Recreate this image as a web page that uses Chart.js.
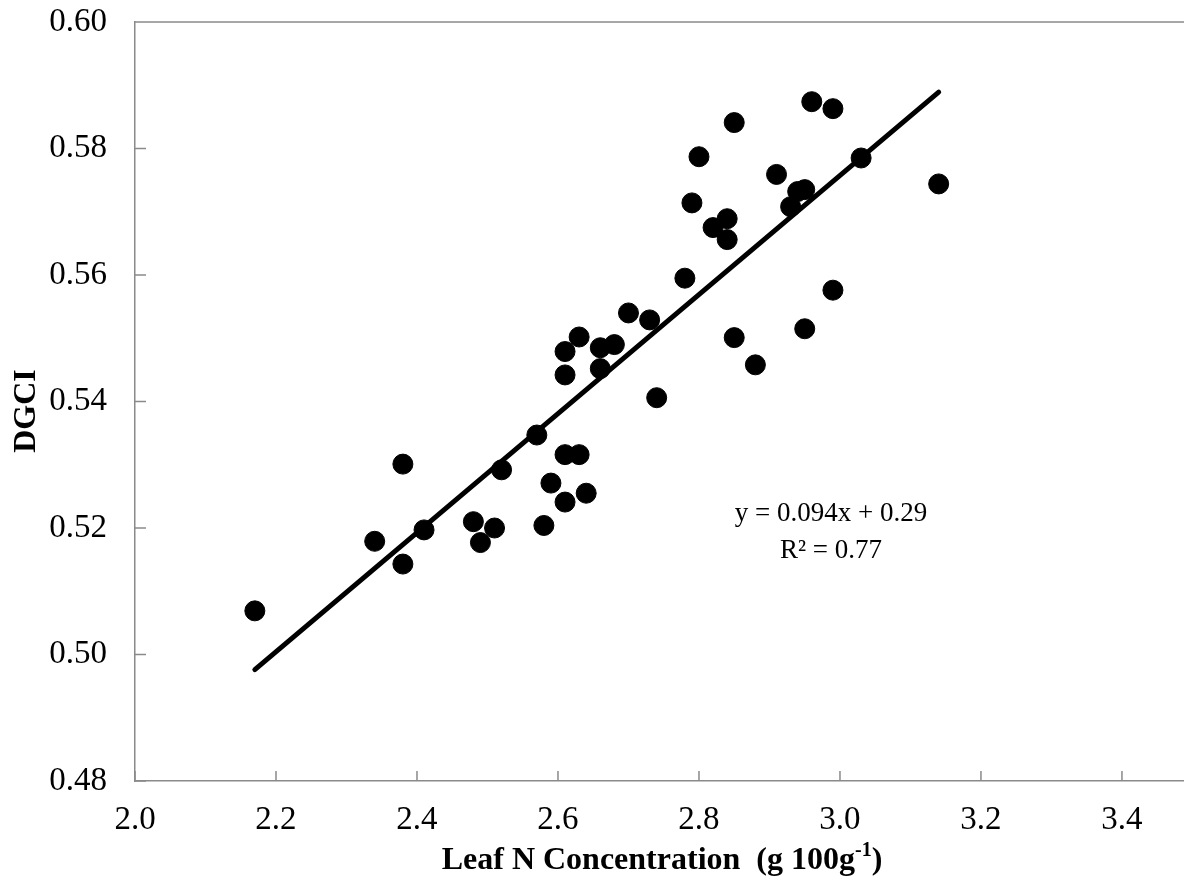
<!DOCTYPE html>
<html>
<head>
<meta charset="utf-8">
<script src="https://cdn.jsdelivr.net/npm/chart.js@4/dist/chart.umd.min.js"></script>
<style>
  body { margin: 0; background: #fff; }
  #wrap { width: 1184px; height: 884px; }
</style>
</head>
<body>
<div id="wrap"><canvas id="dgci-chart"></canvas></div>
<script>
// leaf N concentration (g 100g-1) of each sample
const leafN = [2.17, 2.34, 2.38, 2.38, 2.41, 2.48, 2.49, 2.51, 2.52, 2.57, 2.58, 2.59, 2.61, 2.61, 2.63,
    2.64, 2.61, 2.61, 2.63, 2.66, 2.68, 2.66, 2.70, 2.73, 2.74, 2.78, 2.79, 2.80, 2.82, 2.84, 2.84,
    2.85, 2.85, 2.88, 2.91, 2.93, 2.94, 2.95, 2.95, 2.96, 2.99, 2.99, 3.03, 3.14];
// DGCI of each sample
const dgci = [0.5069, 0.5179, 0.5301, 0.5143, 0.5197, 0.5210, 0.5177, 0.5200, 0.5292, 0.5347, 0.5204, 0.5271, 0.5241, 0.5316, 0.5316,
    0.5255, 0.5442, 0.5479, 0.5502, 0.5485, 0.5490, 0.5452, 0.5540, 0.5529, 0.5406, 0.5595, 0.5714, 0.5787, 0.5675, 0.5689, 0.5656,
    0.5841, 0.5501, 0.5458, 0.5759, 0.5708, 0.5732, 0.5735, 0.5515, 0.5874, 0.5863, 0.5576, 0.5785, 0.5744];
// trend line end points
const fitX = [2.17, 3.14];
const fitY = [0.4976, 0.5889];

const xTicks = [2.0, 2.2, 2.4, 2.6, 2.8, 3.0, 3.2, 3.4];
const yTicks = [0.48, 0.50, 0.52, 0.54, 0.56, 0.58, 0.60];

const eqText = 'y = 0.094x + 0.29';
const r2Text = 'R² = 0.77';

const serif = '"Liberation Serif", "Times New Roman", serif';
const axisGray = '#8a8a8a';

// inner tick marks, top frame line, titles and equation
const decorations = {
    id: 'decorations',
    afterDraw(chart) {
        const ctx = chart.ctx;
        const area = chart.chartArea;
        const xs = chart.scales.x, ys = chart.scales.y;
        ctx.save();
        ctx.strokeStyle = axisGray;
        ctx.lineWidth = 1.5;
        ctx.beginPath();
        ctx.moveTo(area.left, area.top);
        ctx.lineTo(chart.width, area.top);
        xTicks.forEach(v => {
            const px = xs.getPixelForValue(v);
            ctx.moveTo(px, area.bottom);
            ctx.lineTo(px, area.bottom - 10);
        });
        yTicks.forEach(v => {
            const py = ys.getPixelForValue(v);
            ctx.moveTo(area.left, py);
            ctx.lineTo(area.left + 11, py);
        });
        ctx.stroke();

        ctx.fillStyle = '#000';
        ctx.textAlign = 'center';
        ctx.textBaseline = 'middle';
        ctx.font = '27px ' + serif;
        ctx.fillText(eqText, 831, 514);
        ctx.fillText(r2Text, 831, 551);

        // x title with superscript
        const main = 'Leaf N Concentration  (g 100g';
        ctx.font = 'bold 32px ' + serif;
        const w1 = ctx.measureText(main).width;
        ctx.font = 'bold 20px ' + serif;
        const w2 = ctx.measureText('-1').width;
        ctx.font = 'bold 32px ' + serif;
        const w3 = ctx.measureText(')').width;
        let x0 = 662 - (w1 + w2 + w3) / 2;
        ctx.textAlign = 'left';
        ctx.textBaseline = 'alphabetic';
        ctx.fillText(main, x0, 869);
        ctx.font = 'bold 20px ' + serif;
        ctx.fillText('-1', x0 + w1, 856);
        ctx.font = 'bold 32px ' + serif;
        ctx.fillText(')', x0 + w1 + w2, 869);

        // y title
        ctx.translate(27, 411);
        ctx.rotate(-Math.PI / 2);
        ctx.textAlign = 'center';
        ctx.textBaseline = 'middle';
        ctx.fillText('DGCI', 0, 0);
        ctx.restore();
    }
};

const ctx = document.getElementById('dgci-chart').getContext('2d');
new Chart(ctx, {
    type: 'scatter',
    data: {
        datasets: [{
            label: 'samples',
            data: leafN.map((x, i) => ({x: x, y: dgci[i]})),
            backgroundColor: '#000', borderColor: '#000',
            pointRadius: 10, pointHoverRadius: 10
        }, {
            label: 'fit',
            type: 'line',
            data: fitX.map((x, i) => ({x: x, y: fitY[i]})),
            borderColor: '#000', borderWidth: 5, borderCapStyle: 'round',
            pointRadius: 0, fill: false
        }]
    },
    options: {
        responsive: true, maintainAspectRatio: false, animation: false,
        layout: {autoPadding: false, padding: {top: 22, right: 0, left: 0, bottom: 0}},
        plugins: {legend: {display: false}, tooltip: {enabled: false}},
        scales: {
            x: {
                type: 'linear', min: 2.0, max: 3.488,
                grid: {display: false, drawTicks: false},
                border: {display: true, color: axisGray, width: 1.5},
                afterBuildTicks: s => { s.ticks = xTicks.map(v => ({value: v})); },
                afterFit: s => { s.height = 103; s.paddingLeft = 0; s.paddingRight = 0; },
                ticks: {
                    padding: 20, color: '#000', font: {family: serif, size: 33},
                    callback: v => v.toFixed(1)
                }
            },
            y: {
                min: 0.48, max: 0.60,
                grid: {display: false, drawTicks: false},
                border: {display: true, color: axisGray, width: 1.5},
                afterBuildTicks: s => { s.ticks = yTicks.map(v => ({value: v})); },
                afterFit: s => { s.width = 135; s.paddingTop = 0; s.paddingBottom = 0; },
                ticks: {
                    padding: 28, color: '#000', font: {family: serif, size: 33},
                    callback: v => v.toFixed(2)
                }
            }
        }
    },
    plugins: [decorations]
});
</script>
</body>
</html>
